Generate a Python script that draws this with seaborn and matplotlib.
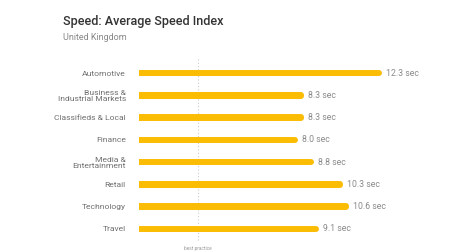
import seaborn as sns
from matplotlib import pyplot as plt

# data
categories = ['Automotive', 'Business &\nIndustrial Markets', 'Classifieds & Local', 'Finance',
              'Media &\nEntertainment', 'Retail', 'Technology', 'Travel']
speed_sec = [12.3, 8.3, 8.3, 8.0, 8.8, 10.3, 10.6, 9.1]
best_practice = 3.0

sns.set_style('white')
plt.rcParams['font.family'] = ['Roboto', 'DejaVu Sans']

fig = plt.figure(figsize=(4.72, 2.52), dpi=100)
ax = fig.add_axes([139 / 472, 1 - 240 / 252, 310 / 472, 178 / 252])

sns.barplot(x=speed_sec, y=categories, orient='h', color='#FBBC04', width=0.02, ax=ax)
# thick edge with round joins gives the pill shaped bars
for p in ax.patches:
    p.set_edgecolor('#FBBC04')
    p.set_linewidth(4.3)
    p.set_joinstyle('round')
    p.set_capstyle('round')

for i, v in enumerate(speed_sec):
    ax.annotate(f'{v:.1f} sec', (v, i), xytext=(5, 0), textcoords='offset points',
                va='center', ha='left', fontsize=6.3, color='#8a8a8a')

ax.axvline(best_practice, ymin=0, ymax=1.03, color='#cccccc', lw=0.8, ls=(0, (1, 2)),
           clip_on=False, zorder=0)
ax.text(best_practice, -0.035, 'best practice', transform=ax.get_xaxis_transform(),
        ha='center', va='top', fontsize=3.4, color='#999999')

ax.set_xlim(0, 310 / 19.5)
ax.set_ylim(7.5, -0.5)
ax.set_xticks([])
ax.tick_params(axis='y', length=0, pad=9.5, labelsize=6.1, labelcolor='#707070')
for lbl in ax.get_yticklabels():
    lbl.set_linespacing(1.0)
ax.set_xlabel('')
ax.set_ylabel('')
sns.despine(ax=ax, left=True, bottom=True)

fig.text(63 / 472, 1 - 21 / 252, 'Speed: Average Speed Index', fontsize=9.1, weight='medium',
         color='#333333', va='center', ha='left')
fig.text(63 / 472, 1 - 38 / 252, 'United Kingdom', fontsize=6.5, color='#888888',
         va='center', ha='left')

fig.savefig('out.png', dpi=100)
